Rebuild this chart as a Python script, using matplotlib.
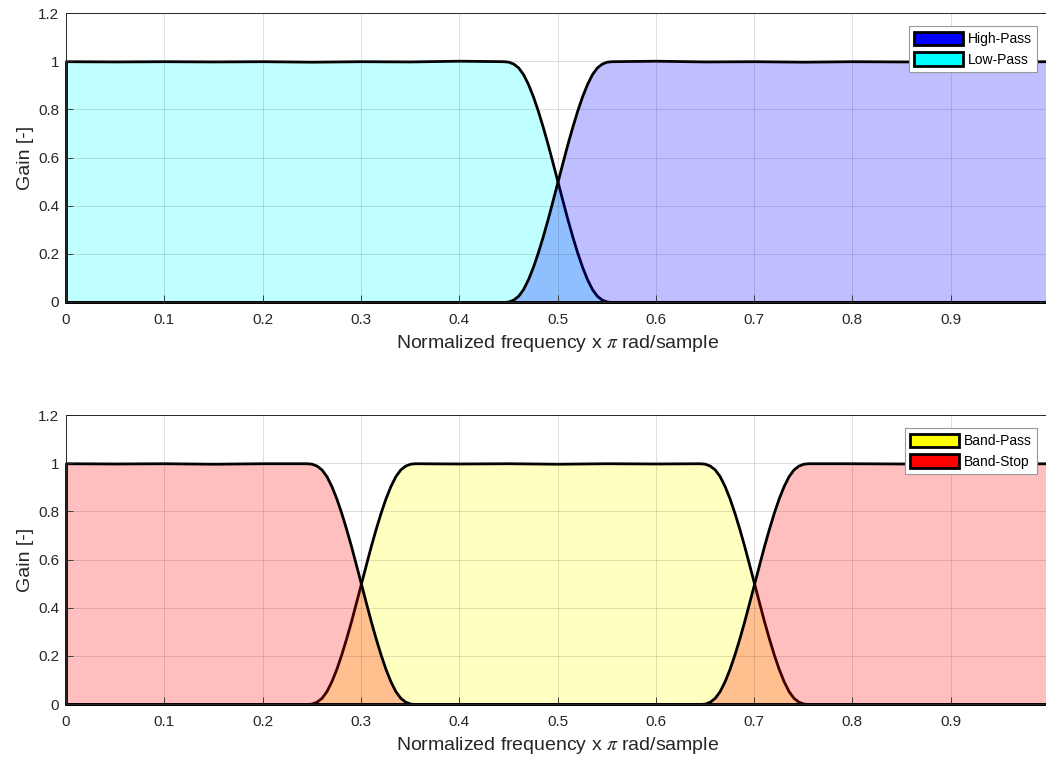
import matplotlib.pyplot as plt
import matplotlib.ticker as mticker
from matplotlib.patches import Patch

plt.rcParams['font.family'] = ['Liberation Sans', 'DejaVu Sans']
plt.rcParams['mathtext.fontset'] = 'stix'

# frequency grid and gains for the low/high-pass pair
top_freq = [0.0, 0.05, 0.1, 0.15, 0.2, 0.25, 0.3, 0.35, 0.4, 0.445,
            0.45, 0.455, 0.46, 0.465, 0.47, 0.475, 0.48, 0.485, 0.49, 0.495, 0.5,
            0.505, 0.51, 0.515, 0.52, 0.525, 0.53, 0.535, 0.54, 0.545, 0.55,
            0.555, 0.6, 0.65, 0.7, 0.75, 0.8, 0.85, 0.9, 0.95, 1.0]
low_pass = [1.0, 0.999, 1.0, 0.999, 1.0, 0.998, 1.0, 0.999, 1.002, 1.0,
            0.998, 0.990, 0.974, 0.946, 0.905, 0.854, 0.794, 0.727, 0.655, 0.578, 0.5,
            0.422, 0.345, 0.273, 0.206, 0.146, 0.095, 0.054, 0.026, 0.010, 0.002,
            0.0, 0.0, 0.0, 0.0, 0.0, 0.0, 0.0, 0.0, 0.0, 0.0]
high_pass = [0.0, 0.0, 0.0, 0.0, 0.0, 0.0, 0.0, 0.0, 0.0, 0.0,
             0.002, 0.010, 0.026, 0.054, 0.095, 0.146, 0.206, 0.273, 0.345, 0.422, 0.5,
             0.578, 0.655, 0.727, 0.794, 0.854, 0.905, 0.946, 0.974, 0.990, 0.998,
             1.0, 1.002, 0.999, 1.0, 0.998, 1.0, 0.999, 1.0, 0.999, 1.0]

# frequency grid and gains for the band-pass/band-stop pair
bottom_freq = [0.0, 0.05, 0.1, 0.15, 0.2, 0.245,
               0.25, 0.255, 0.26, 0.265, 0.27, 0.275, 0.28, 0.285, 0.29, 0.295, 0.3,
               0.305, 0.31, 0.315, 0.32, 0.325, 0.33, 0.335, 0.34, 0.345, 0.35,
               0.355, 0.4, 0.45, 0.5, 0.55, 0.6, 0.645,
               0.65, 0.655, 0.66, 0.665, 0.67, 0.675, 0.68, 0.685, 0.69, 0.695, 0.7,
               0.705, 0.71, 0.715, 0.72, 0.725, 0.73, 0.735, 0.74, 0.745, 0.75,
               0.755, 0.8, 0.85, 0.9, 0.95, 1.0]
band_pass = [0.0, 0.0, 0.0, 0.0, 0.0, 0.0,
             0.002, 0.010, 0.026, 0.054, 0.095, 0.146, 0.206, 0.273, 0.345, 0.422, 0.5,
             0.578, 0.655, 0.727, 0.794, 0.854, 0.905, 0.946, 0.974, 0.990, 0.998,
             1.0, 0.999, 1.0, 0.998, 1.0, 0.999, 1.0,
             0.998, 0.990, 0.974, 0.946, 0.905, 0.854, 0.794, 0.727, 0.655, 0.578, 0.5,
             0.422, 0.345, 0.273, 0.206, 0.146, 0.095, 0.054, 0.026, 0.010, 0.002,
             0.0, 0.0, 0.0, 0.0, 0.0, 0.0]
band_stop = [1.0, 0.999, 1.0, 0.998, 1.0, 1.0,
             0.998, 0.990, 0.974, 0.946, 0.905, 0.854, 0.794, 0.727, 0.655, 0.578, 0.5,
             0.422, 0.345, 0.273, 0.206, 0.146, 0.095, 0.054, 0.026, 0.010, 0.002,
             0.0, 0.0, 0.0, 0.0, 0.0, 0.0, 0.0,
             0.002, 0.010, 0.026, 0.054, 0.095, 0.146, 0.206, 0.273, 0.345, 0.422, 0.5,
             0.578, 0.655, 0.727, 0.794, 0.854, 0.905, 0.946, 0.974, 0.990, 0.998,
             1.0, 1.0, 0.999, 1.0, 0.998, 1.0]

x_ticks = [0, 0.1, 0.2, 0.3, 0.4, 0.5, 0.6, 0.7, 0.8, 0.9]
y_ticks = [0, 0.2, 0.4, 0.6, 0.8, 1.0, 1.2]

axis_color = (0.15, 0.15, 0.15)


def area(ax, x, y, color):
    ax.fill_between(x, y, 0, facecolor=color + (0.25,), edgecolor='black',
                    linewidth=2, clip_on=False, zorder=2)


def style_axes(ax, handles, labels):
    ax.set_xlim(0, 1)
    ax.set_ylim(0, 1.2)
    ax.set_xticks(x_ticks)
    ax.set_yticks(y_ticks)
    ax.xaxis.set_major_formatter(mticker.FormatStrFormatter('%g'))
    ax.yaxis.set_major_formatter(mticker.FormatStrFormatter('%g'))
    ax.tick_params(direction='in', length=5, width=0.6, colors=axis_color,
                   labelsize=11, top=False, right=False)
    ax.tick_params(axis='x', pad=8)
    ax.tick_params(axis='y', pad=5)
    ax.grid(True, color=axis_color, alpha=0.15, linewidth=0.7, zorder=3)
    ax.set_axisbelow(False)
    for s in ax.spines.values():
        s.set_color(axis_color)
        s.set_linewidth(0.7)
    ax.set_xlabel(r'Normalized frequency x $\pi$ rad/sample', fontsize=14,
                  color=axis_color, labelpad=4)
    ax.set_ylabel('Gain [-]', fontsize=14, color=axis_color, labelpad=3)
    leg = ax.legend(handles, labels, loc='upper right',
                    bbox_to_anchor=(0.988, 0.955), fontsize=10,
                    handlelength=3.5, handleheight=1.1, handletextpad=0.35,
                    borderpad=0.4, labelspacing=0.45, fancybox=False,
                    framealpha=1, borderaxespad=0)
    leg.get_frame().set_edgecolor((0.6, 0.6, 0.6))
    leg.get_frame().set_linewidth(0.8)


fig = plt.figure(figsize=(10.46, 7.58), dpi=100)
ax1 = fig.add_axes([0.0631, 0.6016, 0.9398, 0.3812])
ax2 = fig.add_axes([0.0631, 0.0712, 0.9398, 0.3812])

# low/high-pass pair
area(ax1, top_freq, low_pass, (0.0, 1.0, 1.0))
area(ax1, top_freq, high_pass, (0.0, 0.0, 1.0))
style_axes(ax1,
           [Patch(facecolor='blue', edgecolor='black', linewidth=2),
            Patch(facecolor='cyan', edgecolor='black', linewidth=2)],
           ['High-Pass', 'Low-Pass'])

# band-pass/band-stop pair
area(ax2, bottom_freq, band_pass, (1.0, 1.0, 0.0))
area(ax2, bottom_freq, band_stop, (1.0, 0.0, 0.0))
style_axes(ax2,
           [Patch(facecolor='yellow', edgecolor='black', linewidth=2),
            Patch(facecolor='red', edgecolor='black', linewidth=2)],
           ['Band-Pass', 'Band-Stop'])

fig.savefig('out.png', dpi=100)
